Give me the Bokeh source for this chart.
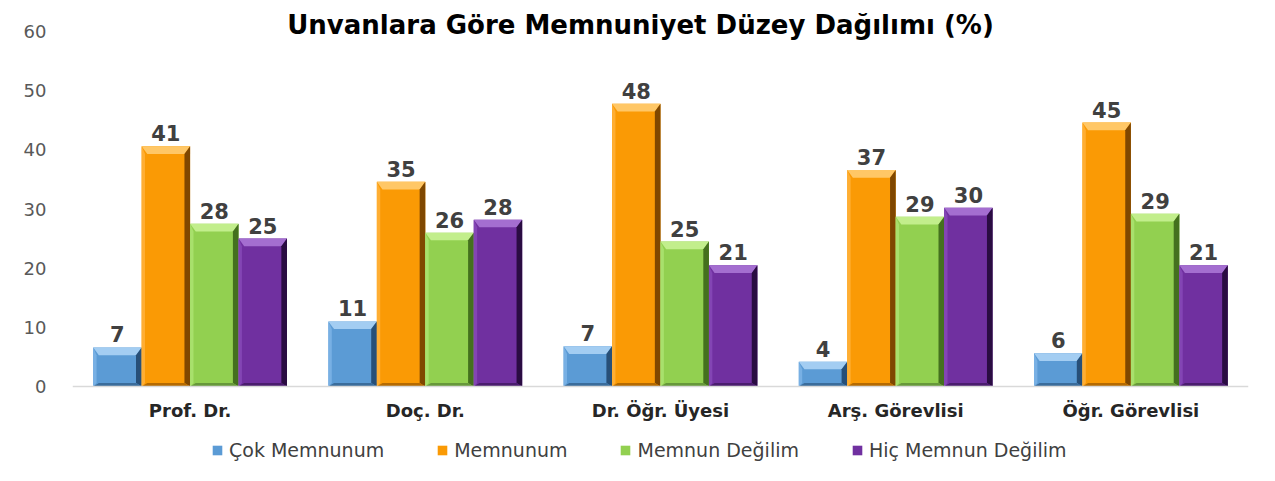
from bokeh.plotting import figure
from bokeh.models import ColumnDataSource, Legend, LegendItem, Label, FixedTicker, Range1d, Span
from bokeh.core.properties import value
from bokeh.embed import file_html
from bokeh.resources import INLINE

# ---- data ----
categories = ["Prof. Dr.", "Doç. Dr.", "Dr. Öğr. Üyesi", "Arş. Görevlisi", "Öğr. Görevlisi"]
series_names = ["Çok Memnunum", "Memnunum", "Memnun Değilim", "Hiç Memnun Değilim"]
cok_memnunum = [6.6, 11.0, 6.8, 4.2, 5.6]
memnunum = [40.6, 34.6, 47.8, 36.6, 44.6]
memnun_degilim = [27.5, 26.0, 24.5, 28.7, 29.2]
hic_memnun_degilim = [25.0, 28.2, 20.5, 30.2, 20.5]
y_ticks = [0, 10, 20, 30, 40, 50, 60]
title_text = "Unvanlara Göre Memnuniyet Düzey Dağılımı (%)"

series_values = [cok_memnunum, memnunum, memnun_degilim, hic_memnun_degilim]

# ---- styles ----
base_colors = ["#5B9BD5", "#FA9A05", "#92D050", "#7030A0"]
top_colors = ["#A3CDF2", "#FFC766", "#C2EE8C", "#A46ED0"]
left_colors = ["#78B0E4", "#FFAE33", "#A8E06C", "#8345B4"]
right_colors = ["#274F78", "#7F4700", "#44701E", "#2A0C42"]
bottom_colors = ["#3A6C9B", "#B56A00", "#66983A", "#4A1C6E"]

FONT = "DejaVu Sans"
W, H = 1275, 481
AX_TOP_PX, AX_BOT_PX = 31, 386        # pixel rows of 60 and 0
y_max = y_ticks[-1]
px_per_unit = (AX_BOT_PX - AX_TOP_PX) / y_max
y_start = -(H - AX_BOT_PX) / px_per_unit
y_end = y_max + AX_TOP_PX / px_per_unit

n_cat = len(categories)
n_ser = len(series_names)
bar_w = 0.206
ex = 0.024     # bevel width (x units)
ey_top = 1.3   # bevel height at top (y units)
ey_bot = 0.6   # bevel height at bottom

p = figure(width=W, height=H, output_backend="svg", toolbar_location=None,
           x_range=Range1d(-0.5, n_cat - 0.5), y_range=Range1d(y_start, y_end),
           min_border_left=72, min_border_right=27, min_border_top=0,
           min_border_bottom=0)
p.outline_line_color = None
p.xgrid.grid_line_color = None
p.ygrid.grid_line_color = None
p.xaxis.visible = False

p.add_layout(Span(location=0, dimension="width", line_color="#D9D9D9", line_width=1.5))

legend_items = []
for s in range(n_ser):
    vals = series_values[s]
    xs = [i + (s - (n_ser - 1) / 2) * bar_w for i in range(n_cat)]
    labels = [str(int(v + 0.5)) for v in vals]
    src = ColumnDataSource(dict(x=xs, top=vals, lab=labels))
    r = p.vbar(x="x", top="top", bottom=0, width=bar_w, source=src,
               fill_color=base_colors[s], line_color=None)
    legend_items.append(LegendItem(label=series_names[s], renderers=[r]))

    # bevel faces
    faces = {"top": ([], []), "left": ([], []), "right": ([], []), "bottom": ([], [])}
    for xc, v in zip(xs, vals):
        x0, x1 = xc - bar_w / 2, xc + bar_w / 2
        faces["top"][0].append([x0, x1, x1 - ex, x0 + ex])
        faces["top"][1].append([v, v, v - ey_top, v - ey_top])
        faces["right"][0].append([x1, x1, x1 - ex, x1 - ex])
        faces["right"][1].append([v, 0, ey_bot, v - ey_top])
        faces["left"][0].append([x0, x0 + ex * 0.6, x0 + ex * 0.6, x0])
        faces["left"][1].append([v, v - ey_top, ey_bot, 0])
        faces["bottom"][0].append([x0, x0 + ex, x1 - ex, x1])
        faces["bottom"][1].append([0, ey_bot, ey_bot, 0])
    face_cols = {"top": top_colors[s], "left": left_colors[s],
                 "right": right_colors[s], "bottom": bottom_colors[s]}
    for k, (fx, fy) in faces.items():
        p.patches(xs=fx, ys=fy, fill_color=face_cols[k], line_color=None)

    p.text(x="x", y="top", text="lab", source=src, text_align="center",
           text_baseline="bottom", y_offset=-5, text_font=value(FONT),
           text_font_style="bold", text_font_size="21px", text_color="#404040")

# category labels under the baseline
cat_src = ColumnDataSource(dict(x=list(range(n_cat)), y=[0] * n_cat, t=categories))
p.text(x="x", y="y", text="t", source=cat_src, text_align="center",
       text_baseline="middle", y_offset=24, text_font=value(FONT),
       text_font_style="bold", text_font_size="18px", text_color="#262626")

# ---- y axis ----
p.yaxis.ticker = FixedTicker(ticks=y_ticks)
p.yaxis.axis_line_color = None
p.yaxis.major_tick_line_color = None
p.yaxis.minor_tick_line_color = None
p.yaxis.major_label_text_font = FONT
p.yaxis.major_label_text_font_size = "18px"
p.yaxis.major_label_text_color = "#595959"
p.yaxis.major_label_standoff = 20

legend = Legend(items=legend_items, orientation="horizontal", location=(139, 20),
                label_text_font=FONT, label_text_font_size="19px",
                label_text_color="#404040", glyph_width=12, glyph_height=12,
                spacing=52, label_standoff=6, padding=0, margin=0,
                border_line_color=None, background_fill_alpha=0)
p.add_layout(legend)

title = Label(x=568, y=H - 24, x_units="screen", y_units="screen", text=title_text,
              text_align="center", text_baseline="middle", text_font=FONT,
              text_font_style="bold", text_font_size="26px", text_color="#000000")
p.add_layout(title)

open("out.html", "w").write(file_html(p, INLINE))
